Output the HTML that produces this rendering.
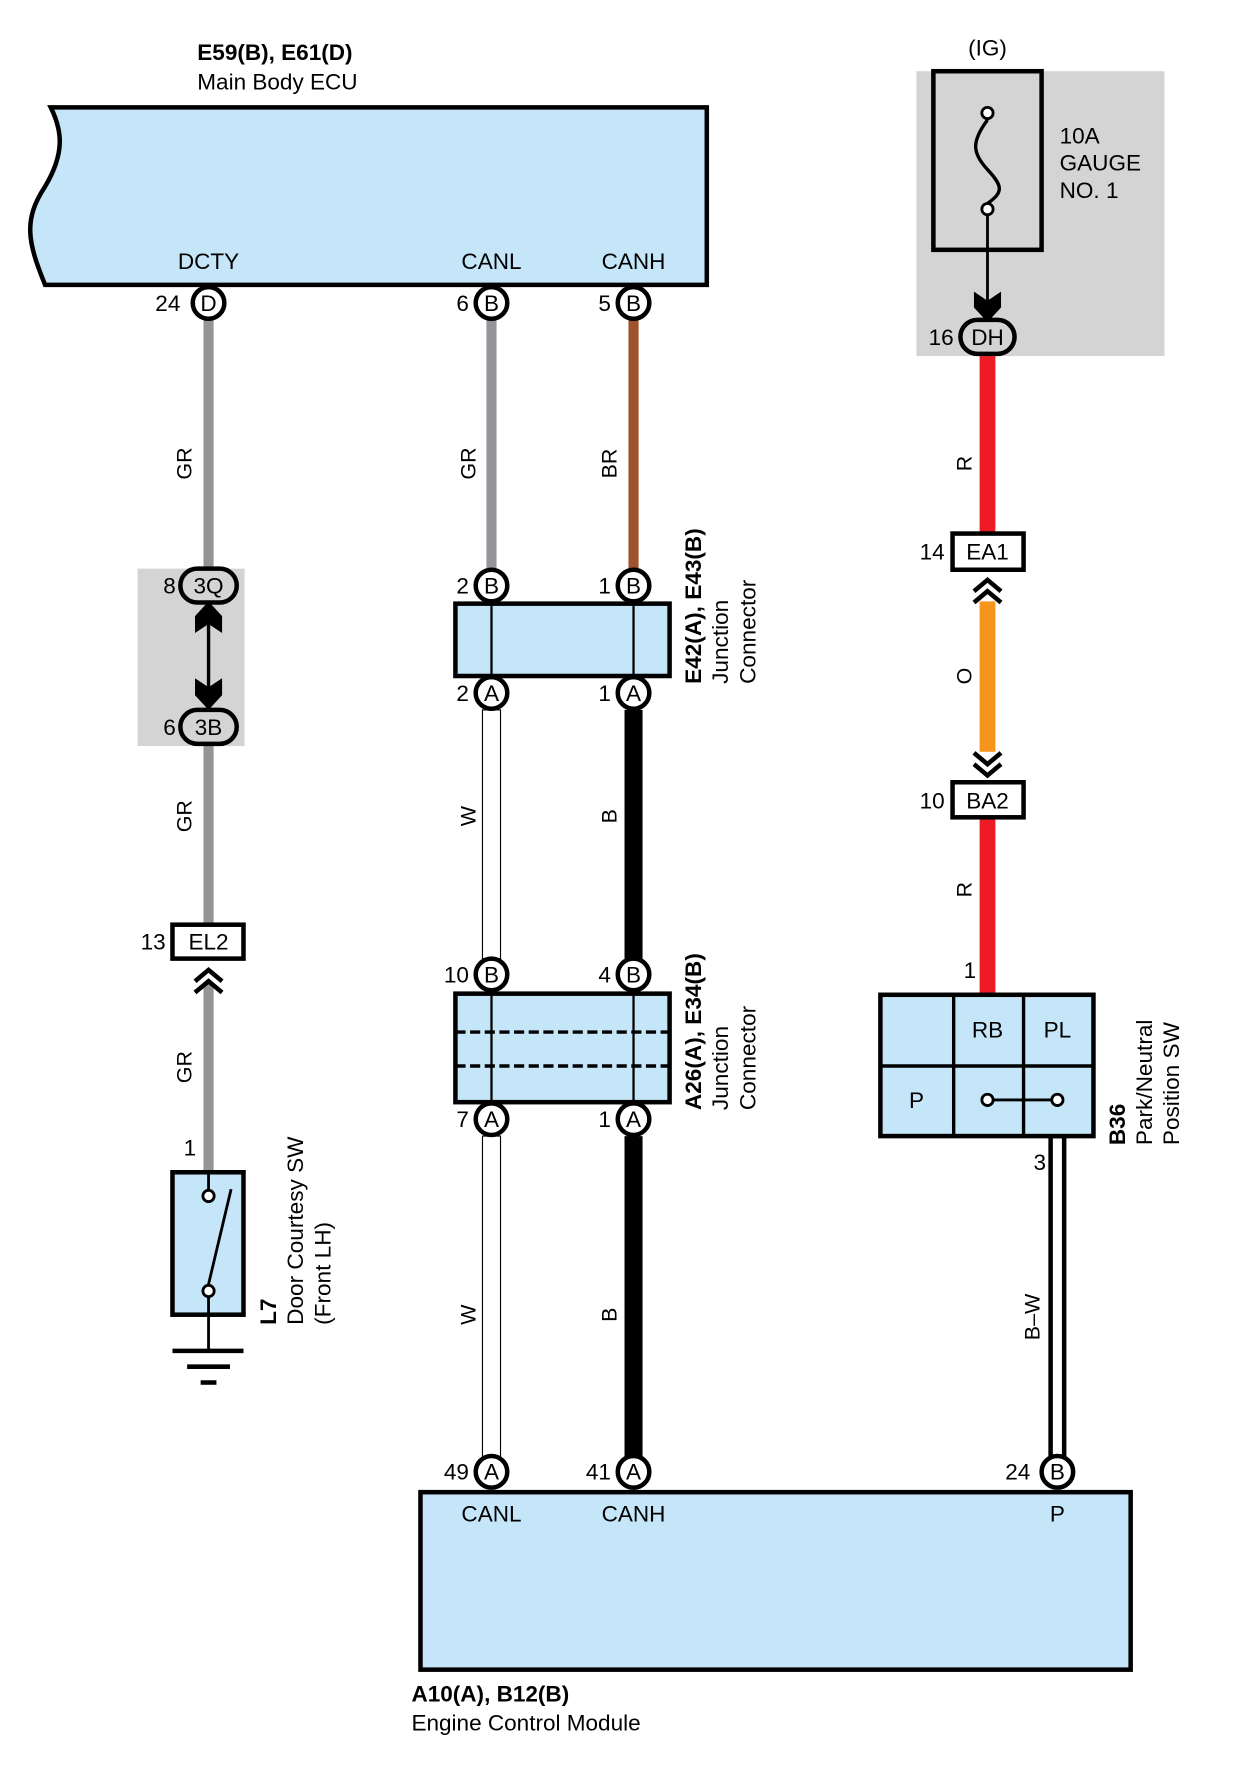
<!DOCTYPE html>
<html><head><style>html,body{margin:0;padding:0;background:#fff}svg{display:block}text{font-family:"Liberation Sans",sans-serif;}</style></head>
<body>
<svg width="1240" height="1768" viewBox="0 0 1100 1564" preserveAspectRatio="none" xmlns="http://www.w3.org/2000/svg">
<defs>
<g id="chevU"><polyline points="-12,10 0,0 12,10" fill="none" stroke="#000" stroke-width="4"/><polyline points="-12,20 0,10 12,20" fill="none" stroke="#000" stroke-width="4"/></g>
</defs>
<!-- gray backgrounds -->
<rect x="813" y="63" width="220" height="252" fill="#d4d4d5"/>
<rect x="122" y="503" width="95" height="157" fill="#d4d4d5"/>

<!-- titles -->
<g font-size="20">
<text x="175" y="53" font-weight="bold">E59(B), E61(D)</text>
<text x="175" y="79">Main Body ECU</text>
<text x="365" y="1505" font-weight="bold">A10(A), B12(B)</text>
<text x="365" y="1531">Engine Control Module</text>
<text x="876" y="49" text-anchor="middle">(IG)</text>
<text x="940" y="127">10A</text>
<text x="940" y="151">GAUGE</text>
<text x="940" y="175">NO. 1</text>
</g>

<!-- ECU box -->
<path d="M45,95 L627,95 L627,252 L40,252 C25,215 20,195 40,165 C58,135 55,115 45,95 Z" fill="#c5e6f8" stroke="#000" stroke-width="4"/>
<g font-size="20" text-anchor="middle">
<text x="185" y="238">DCTY</text><text x="436" y="238">CANL</text><text x="562" y="238">CANH</text>
</g>

<!-- wires -->
<g stroke-linecap="butt">
<line x1="185" y1="282" x2="185" y2="505" stroke="#939598" stroke-width="9"/>
<line x1="436" y1="282" x2="436" y2="505" stroke="#939598" stroke-width="9"/>
<line x1="562" y1="282" x2="562" y2="505" stroke="#a0522d" stroke-width="9"/>
<line x1="185" y1="655" x2="185" y2="818" stroke="#939598" stroke-width="9"/>
<line x1="185" y1="870" x2="185" y2="1038" stroke="#939598" stroke-width="9"/>
<line x1="562" y1="628" x2="562" y2="848" stroke="#000" stroke-width="16"/>
<line x1="562" y1="1005" x2="562" y2="1290" stroke="#000" stroke-width="16"/>
<rect x="428" y="628" width="16" height="220" fill="#fff" stroke="#000" stroke-width="1"/>
<rect x="428" y="1005" width="16" height="285" fill="#fff" stroke="#000" stroke-width="1"/>
<line x1="876" y1="315" x2="876" y2="472" stroke="#ed1c24" stroke-width="14"/>
<line x1="876" y1="532" x2="876" y2="665" stroke="#f7941d" stroke-width="14"/>
<line x1="876" y1="723" x2="876" y2="880" stroke="#ed1c24" stroke-width="14"/>
<rect x="932" y="1005" width="12" height="285" fill="#fff" stroke="#000" stroke-width="4"/>
</g>

<!-- wire labels -->
<g font-size="19" text-anchor="middle">
<text transform="translate(170,410) rotate(-90)">GR</text>
<text transform="translate(422,410) rotate(-90)">GR</text>
<text transform="translate(547,410) rotate(-90)">BR</text>
<text transform="translate(170,722) rotate(-90)">GR</text>
<text transform="translate(170,944) rotate(-90)">GR</text>
<text transform="translate(422,722) rotate(-90)">W</text>
<text transform="translate(547,722) rotate(-90)">B</text>
<text transform="translate(422,1163) rotate(-90)">W</text>
<text transform="translate(547,1163) rotate(-90)">B</text>
<text transform="translate(862,410) rotate(-90)">R</text>
<text transform="translate(862,598) rotate(-90)">O</text>
<text transform="translate(862,787) rotate(-90)">R</text>
<text transform="translate(922,1165) rotate(-90)">B–W</text>
</g>

<!-- double arrow 3Q-3B -->
<line x1="185" y1="545" x2="185" y2="615" stroke="#000" stroke-width="3"/>
<path d="M185,532 L197,545 L197,560 L185,552 L173,560 L173,545 Z" fill="#000"/>
<path d="M185,628 L197,615 L197,600 L185,608 L173,600 L173,615 Z" fill="#000"/>

<!-- fuse -->
<rect x="828" y="63" width="96" height="158" fill="#d4d4d5" stroke="#000" stroke-width="4"/>
<path d="M876,106 C862,125 862,135 876,150 C890,165 890,170 876,180" fill="none" stroke="#000" stroke-width="3"/>
<circle cx="876" cy="100" r="5" fill="#fff" stroke="#000" stroke-width="2.5"/>
<circle cx="876" cy="185" r="5" fill="#fff" stroke="#000" stroke-width="2.5"/>
<line x1="876" y1="190" x2="876" y2="270" stroke="#000" stroke-width="2.5"/>
<path d="M876,285 L888,272 L888,258 L876,266 L864,258 L864,272 Z" fill="#000"/>

<!-- chevrons -->
<use href="#chevU" x="185" y="858"/>
<use href="#chevU" x="876" y="513"/>
<use href="#chevU" transform="translate(876,686) scale(1,-1)"/>

<!-- connector boxes -->
<g fill="#fff" stroke="#000" stroke-width="4">
<rect x="153" y="818" width="63" height="30"/>
<rect x="845" y="472" width="63" height="32"/>
<rect x="845" y="692" width="63" height="31"/>
</g>
<g font-size="20" text-anchor="middle">
<text x="185" y="840">EL2</text><text x="876" y="495">EA1</text><text x="876" y="715">BA2</text>
</g>

<!-- junction connectors -->
<rect x="404" y="534" width="190" height="64" fill="#c5e6f8" stroke="#000" stroke-width="4"/>
<line x1="436" y1="534" x2="436" y2="598" stroke="#000" stroke-width="2"/>
<line x1="562" y1="534" x2="562" y2="598" stroke="#000" stroke-width="2"/>
<rect x="404" y="879" width="190" height="96" fill="#c5e6f8" stroke="#000" stroke-width="4"/>
<line x1="436" y1="879" x2="436" y2="975" stroke="#000" stroke-width="2"/>
<line x1="562" y1="879" x2="562" y2="975" stroke="#000" stroke-width="2"/>
<line x1="404" y1="913" x2="594" y2="913" stroke="#000" stroke-width="3" stroke-dasharray="9,4"/>
<line x1="404" y1="943" x2="594" y2="943" stroke="#000" stroke-width="3" stroke-dasharray="9,4"/>

<!-- door switch -->
<rect x="153" y="1037" width="63" height="126" fill="#c5e6f8" stroke="#000" stroke-width="4"/>
<line x1="185" y1="1038" x2="185" y2="1052" stroke="#000" stroke-width="2.5"/>
<line x1="185" y1="1136" x2="205" y2="1052" stroke="#000" stroke-width="2.5"/>
<circle cx="185" cy="1058" r="5" fill="#fff" stroke="#000" stroke-width="2.5"/>
<circle cx="185" cy="1142" r="5" fill="#fff" stroke="#000" stroke-width="2.5"/>
<line x1="185" y1="1147" x2="185" y2="1195" stroke="#000" stroke-width="2.5"/>
<line x1="153" y1="1195" x2="216" y2="1195" stroke="#000" stroke-width="4"/>
<line x1="166" y1="1209" x2="204" y2="1209" stroke="#000" stroke-width="4"/>
<line x1="178" y1="1223" x2="192" y2="1223" stroke="#000" stroke-width="4"/>

<!-- B36 -->
<rect x="781" y="880" width="189" height="125" fill="#c5e6f8" stroke="#000" stroke-width="4"/>
<line x1="846" y1="880" x2="846" y2="1005" stroke="#000" stroke-width="3"/>
<line x1="908" y1="880" x2="908" y2="1005" stroke="#000" stroke-width="3"/>
<line x1="781" y1="943" x2="970" y2="943" stroke="#000" stroke-width="3"/>
<line x1="876" y1="973" x2="938" y2="973" stroke="#000" stroke-width="2.5"/>
<circle cx="876" cy="973" r="5" fill="#fff" stroke="#000" stroke-width="2.5"/>
<circle cx="938" cy="973" r="5" fill="#fff" stroke="#000" stroke-width="2.5"/>
<g font-size="20" text-anchor="middle"><text x="876" y="918">RB</text><text x="938" y="918">PL</text><text x="813" y="980">P</text></g>

<!-- ECM -->
<rect x="373" y="1320" width="630" height="157" fill="#c5e6f8" stroke="#000" stroke-width="4"/>
<g font-size="20" text-anchor="middle"><text x="436" y="1346">CANL</text><text x="562" y="1346">CANH</text><text x="938" y="1346">P</text></g>

<!-- pins -->
<g fill="#fff" stroke="#000" stroke-width="4">
<circle cx="185" cy="268" r="14"/><circle cx="436" cy="268" r="14"/><circle cx="562" cy="268" r="14"/>
<circle cx="436" cy="518" r="14"/><circle cx="562" cy="518" r="14"/>
<circle cx="436" cy="613" r="14"/><circle cx="562" cy="613" r="14"/>
<circle cx="436" cy="862" r="14"/><circle cx="562" cy="862" r="14"/>
<circle cx="436" cy="990" r="14"/><circle cx="562" cy="990" r="14"/>
<circle cx="436" cy="1302" r="14"/><circle cx="562" cy="1302" r="14"/><circle cx="938" cy="1302" r="14"/>
<rect x="160" y="503" width="50" height="30" rx="15" fill="#d4d4d5"/>
<rect x="160" y="628" width="50" height="30" rx="15" fill="#d4d4d5"/>
<rect x="852" y="283" width="48" height="30" rx="15" fill="#d4d4d5"/>
</g>
<g font-size="20" text-anchor="middle">
<text x="185" y="275">D</text><text x="436" y="275">B</text><text x="562" y="275">B</text>
<text x="436" y="525">B</text><text x="562" y="525">B</text>
<text x="436" y="620">A</text><text x="562" y="620">A</text>
<text x="436" y="869">B</text><text x="562" y="869">B</text>
<text x="436" y="997">A</text><text x="562" y="997">A</text>
<text x="436" y="1309">A</text><text x="562" y="1309">A</text><text x="938" y="1309">B</text>
<text x="185" y="525">3Q</text><text x="185" y="650">3B</text><text x="876" y="305">DH</text>
</g>
<g font-size="20" text-anchor="end">
<text x="160" y="275">24</text><text x="416" y="275">6</text><text x="542" y="275">5</text>
<text x="156" y="525">8</text><text x="156" y="650">6</text>
<text x="416" y="525">2</text><text x="542" y="525">1</text>
<text x="416" y="620">2</text><text x="542" y="620">1</text>
<text x="416" y="869">10</text><text x="542" y="869">4</text>
<text x="416" y="997">7</text><text x="542" y="997">1</text>
<text x="416" y="1309">49</text><text x="542" y="1309">41</text><text x="914" y="1309">24</text>
<text x="147" y="840">13</text><text x="838" y="495">14</text><text x="838" y="715">10</text>
<text x="846" y="305">16</text>
<text x="174" y="1022">1</text><text x="866" y="865">1</text><text x="928" y="1035">3</text>
</g>

<!-- rotated component labels -->
<g font-size="20">
<text transform="translate(622,605) rotate(-90)" font-weight="bold">E42(A), E43(B)</text>
<text transform="translate(646,605) rotate(-90)">Junction</text>
<text transform="translate(670,605) rotate(-90)">Connector</text>
<text transform="translate(622,982) rotate(-90)" font-weight="bold">A26(A), E34(B)</text>
<text transform="translate(646,982) rotate(-90)">Junction</text>
<text transform="translate(670,982) rotate(-90)">Connector</text>
<text transform="translate(245,1172) rotate(-90)" font-weight="bold">L7</text>
<text transform="translate(269,1172) rotate(-90)">Door Courtesy SW</text>
<text transform="translate(293,1172) rotate(-90)">(Front LH)</text>
<text transform="translate(998,1013) rotate(-90)" font-weight="bold">B36</text>
<text transform="translate(1022,1013) rotate(-90)">Park/Neutral</text>
<text transform="translate(1046,1013) rotate(-90)">Position SW</text>
</g>
</svg>
</body></html>
